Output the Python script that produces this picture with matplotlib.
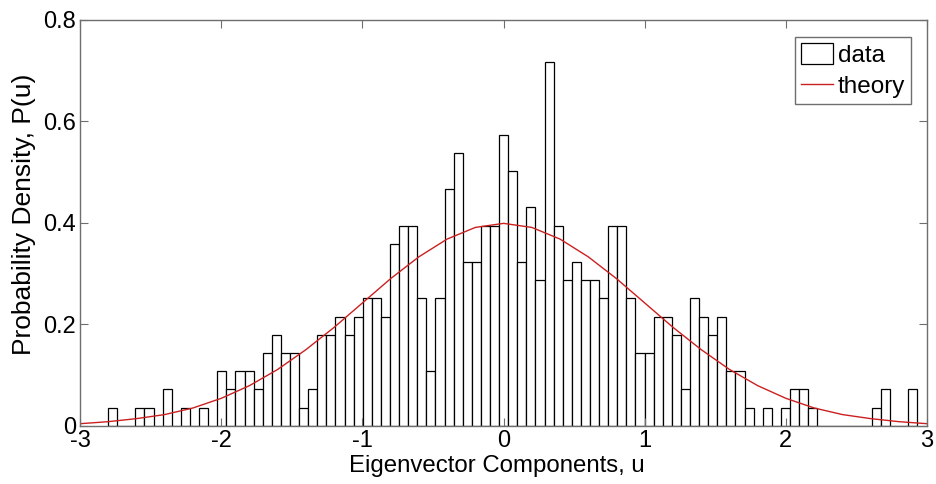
import matplotlib
matplotlib.use('Agg')
import matplotlib.pyplot as plt
import numpy as np

# histogram: counts per bin, bins of equal width
BIN_START = -2.801
BIN_WIDTH = 0.0644
COUNTS = [1, 0, 0, 1, 1, 0, 2, 0, 1, 0, 1, 0, 3, 2, 3, 3, 2, 4,
          5, 4, 4, 1, 2, 5, 5, 6, 5, 6, 7, 7, 6, 10, 11, 11, 7, 3, 7, 13, 15, 9, 9,
          11, 11, 16, 14, 9, 12, 8, 20, 11, 8, 9, 8, 8, 7, 11, 11, 7, 4, 4, 6, 6, 5, 2,
          7, 6, 5, 6, 3, 3, 1, 0, 1, 0, 1, 2, 2, 1, 0, 0, 0, 0, 0, 0, 1, 2, 0, 0, 2]

# theory curve, read at steps of 0.2
THEORY_U = [-3.0, -2.8, -2.6, -2.4, -2.2, -2.0, -1.8, -1.6, -1.4, -1.2, -1.0,
            -0.8, -0.6, -0.4, -0.2, 0.0, 0.2, 0.4, 0.6, 0.8, 1.0, 1.2, 1.4,
            1.6, 1.8, 2.0, 2.2, 2.4, 2.6, 2.8, 3.0]
THEORY_P = [0.004, 0.008, 0.014, 0.022, 0.035, 0.054, 0.079, 0.111, 0.150, 0.194, 0.242,
            0.290, 0.333, 0.368, 0.391, 0.399, 0.391, 0.368, 0.333, 0.290, 0.242, 0.194, 0.150,
            0.111, 0.079, 0.054, 0.035, 0.022, 0.014, 0.008, 0.004]

counts = np.array(COUNTS, float)
density = counts / (counts.sum() * BIN_WIDTH)
left = BIN_START + BIN_WIDTH * np.arange(len(COUNTS))

plt.rcParams['font.family'] = ['Liberation Sans', 'DejaVu Sans']
plt.rcParams['axes.unicode_minus'] = False
AX_COL = '#6e6e6e'

fig = plt.figure(figsize=(9.36, 4.84), dpi=100)
ax = fig.add_axes([0.0855, 0.1204, 0.905, 0.8383])

bars = ax.bar(left, density, width=BIN_WIDTH, align='edge', facecolor='white',
              edgecolor='black', linewidth=0.9, label='data')
line, = ax.plot(THEORY_U, THEORY_P, color='#cc2020', lw=1.0, label='theory')

ax.set_xlim(-3, 3); ax.set_ylim(0, 0.8)
ax.set_xticks(range(-3, 4))
ax.set_yticks([0, 0.2, 0.4, 0.6, 0.8])
ax.set_yticklabels(['0', '0.2', '0.4', '0.6', '0.8'])
ax.tick_params(direction='in', length=6, top=True, right=True, color=AX_COL,
               labelsize=17, pad=3)
for s in ax.spines.values():
    s.set_color(AX_COL); s.set_linewidth(1.0)
ax.set_xlabel('Eigenvector Components, u', fontsize=17.3)
ax.xaxis.set_label_coords(0.4917, -0.072)
ax.set_ylabel('Probability Density, P(u)', fontsize=19)
ax.yaxis.set_label_coords(-0.052, 0.52)

leg = ax.legend([bars, line], ['data', 'theory'], loc='upper right',
                bbox_to_anchor=(0.981, 0.958), borderaxespad=0,
                fontsize=17.5, fancybox=False, framealpha=1, edgecolor=AX_COL,
                borderpad=0.25, handlelength=1.3, handleheight=0.95,
                handletextpad=0.2, labelspacing=0.3)
leg.get_frame().set_linewidth(1.0)

fig.savefig('out.png', dpi=100)
